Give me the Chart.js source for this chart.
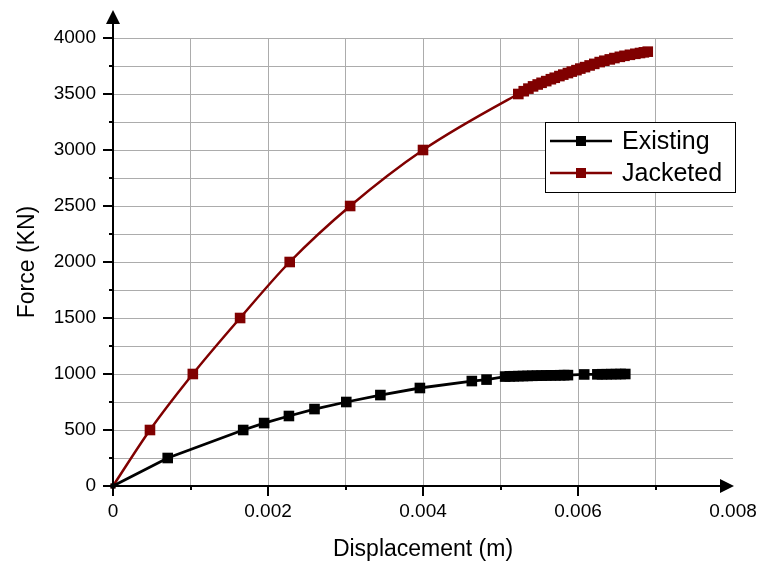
<!DOCTYPE html>
<html><head><meta charset="utf-8">
<script src="https://cdn.jsdelivr.net/npm/chart.js@4"></script>
<style>html,body{margin:0;padding:0;background:#fff}canvas{display:block}</style>
</head><body>
<canvas id="c" width="761" height="565"></canvas>
<script>
// values
const seriesNames=['Existing','Jacketed'];
const xExist=[0,0.000706,0.00168,0.00195,0.00227,0.00260,0.00301,0.00345,0.00396,0.00463,0.00482,
  0.00506,0.00512,0.00517,0.00523,0.00529,0.00535,0.00541,0.00547,0.00553,0.00559,0.00565,0.00571,0.00577,0.00582,0.00587,
  0.00608,0.00625,0.00631,0.00637,0.00643,0.00649,0.00655,0.00661];
const yExist=[0,250,500,562,625,687,750,812,875,937,950,
  977,979,980,981,982,983,984,985,986,987,988,988,989,990,990,
  996,997,998,998,999,999,1000,1000];
const xJack=[0,0.000477,0.00103,0.00164,0.00228,0.00306,0.00400,
  0.00523,0.00530,0.00536,0.00542,0.00548,0.00553,0.00559,0.00565,0.00570,0.00576,0.00581,0.00587,0.00592,0.00598,
  0.00603,0.00609,0.00615,0.00621,0.00628,0.00634,0.00641,0.00647,0.00654,0.00660,0.00667,0.00674,0.00680,0.00685,0.00690];
const yJack=[0,500,1000,1500,2000,2500,3000,
  3500,3525,3548,3568,3585,3600,3615,3632,3645,3660,3673,3687,3700,3713,
  3727,3740,3755,3769,3785,3797,3809,3821,3832,3841,3850,3859,3866,3872,3878];
const xTickVals=[0,0.001,0.002,0.003,0.004,0.005,0.006,0.007,0.008];
const xTickLabels=['0','','0.002','','0.004','','0.006','','0.008'];
const yTickVals=[0,250,500,750,1000,1250,1500,1750,2000,2250,2500,2750,3000,3250,3500,3750,4000];
const yTickLabels=['0','','500','','1000','','1500','','2000','','2500','','3000','','3500','','4000'];

const FONT="'Liberation Sans', Arial, sans-serif";
const gridCol='#acacac';
const toPts=(xs,ys)=>xs.map((x,i)=>({x,y:ys[i]}));

// axes with arrows, outside tick marks, and the framed legend
const axesPlug={
  id:'axesPlug',
  afterDraw(ch){
    const {ctx,chartArea:a,scales:{x,y}}=ch;
    ctx.save();
    ctx.strokeStyle='#000';ctx.fillStyle='#000';ctx.lineWidth=2;
    ctx.beginPath();ctx.moveTo(a.left,a.bottom+1);ctx.lineTo(a.left,a.top-18);ctx.stroke();
    ctx.beginPath();ctx.moveTo(a.left,a.top-28);ctx.lineTo(a.left-7,a.top-14);ctx.lineTo(a.left+7,a.top-14);ctx.closePath();ctx.fill();
    ctx.beginPath();ctx.moveTo(a.left-1,a.bottom);ctx.lineTo(a.right-8,a.bottom);ctx.stroke();
    ctx.beginPath();ctx.moveTo(a.right+1,a.bottom);ctx.lineTo(a.right-13,a.bottom-7);ctx.lineTo(a.right-13,a.bottom+7);ctx.closePath();ctx.fill();
    y.ticks.forEach((t,i)=>{
      const py=Math.round(y.getPixelForValue(t.value));
      const L=yTickLabels[i]?10:4;
      ctx.beginPath();ctx.moveTo(a.left-L,py);ctx.lineTo(a.left,py);ctx.stroke();
    });
    x.ticks.forEach((t,i)=>{
      if(i===x.ticks.length-1) return;
      const px=Math.round(x.getPixelForValue(t.value));
      const L=xTickLabels[i]?10:4;
      ctx.beginPath();ctx.moveTo(px,a.bottom);ctx.lineTo(px,a.bottom+L);ctx.stroke();
    });
    // legend
    const bx=a.right-188, by=a.top+84, bw=190, bh=70;
    ctx.fillStyle='#fff';ctx.fillRect(bx,by,bw,bh);
    ctx.lineWidth=1;ctx.strokeStyle='#000';ctx.strokeRect(bx+0.5,by+0.5,bw,bh);
    ch.data.datasets.forEach((ds,i)=>{
      const ry=by+19+i*32;
      ctx.strokeStyle=ds.borderColor;ctx.fillStyle=ds.borderColor;ctx.lineWidth=2.5;
      ctx.beginPath();ctx.moveTo(bx+5,ry);ctx.lineTo(bx+67,ry);ctx.stroke();
      ctx.fillRect(bx+31,ry-5,10,10);
      ctx.fillStyle='#000';ctx.font='25px '+FONT;ctx.textBaseline='middle';ctx.textAlign='left';
      ctx.fillText(ds.label,bx+77,ry+1);
    });
    ctx.restore();
  }
};

new Chart(document.getElementById('c'),{
  type:'line',
  data:{datasets:[
    {label:seriesNames[0],data:toPts(xExist,yExist),borderColor:'#000000',backgroundColor:'#000000',
     borderWidth:2.8,pointStyle:'rect',pointRadius:c=>c.dataIndex===0?3.5:7.5,pointBorderWidth:0,tension:0,clip:8},
    {label:seriesNames[1],data:toPts(xJack,yJack),borderColor:'#800000',backgroundColor:'#800000',
     borderWidth:2.5,pointStyle:'rect',pointRadius:c=>c.dataIndex===0?3.5:7.5,pointBorderWidth:0,cubicInterpolationMode:'monotone',clip:8}
  ]},
  options:{
    responsive:false,animation:false,
    layout:{padding:{top:38,right:28,left:0,bottom:0}},
    plugins:{legend:{display:false},tooltip:{enabled:false}},
    scales:{
      x:{type:'linear',min:0,max:0.008,
        afterBuildTicks:s=>{s.ticks=xTickVals.map(v=>({value:v}));},
        afterFit:s=>{s.height=79;s.paddingLeft=0;s.paddingRight=0;},
        border:{display:false},
        grid:{drawTicks:false,lineWidth:1,borderDash:[5,2,1,2],
          color:c=>(c.index===0||c.index===xTickVals.length-1)?'rgba(0,0,0,0)':gridCol},
        ticks:{autoSkip:false,maxRotation:0,padding:14,color:'#000',font:{family:FONT,size:19},
          callback:(v,i)=>xTickLabels[i]},
        title:{display:true,text:'Displacement (m)',color:'#000',font:{family:FONT,size:23},padding:{top:0,bottom:2}}
      },
      y:{type:'linear',min:0,max:4000,
        afterBuildTicks:s=>{s.ticks=yTickVals.map(v=>({value:v}));},
        afterFit:s=>{s.width=113;s.paddingTop=0;s.paddingBottom=0;},
        border:{display:false},
        grid:{drawTicks:false,lineWidth:1,borderDash:[5,2,1,2],
          color:c=>c.index===0?'rgba(0,0,0,0)':gridCol},
        ticks:{autoSkip:false,padding:17,color:'#000',font:{family:FONT,size:19},
          callback:(v,i)=>yTickLabels[i]},
        title:{display:true,text:'Force (KN)',color:'#000',font:{family:FONT,size:23},padding:{top:14,bottom:0}}
      }
    }
  },
  plugins:[axesPlug]
});
</script>
</body></html>
